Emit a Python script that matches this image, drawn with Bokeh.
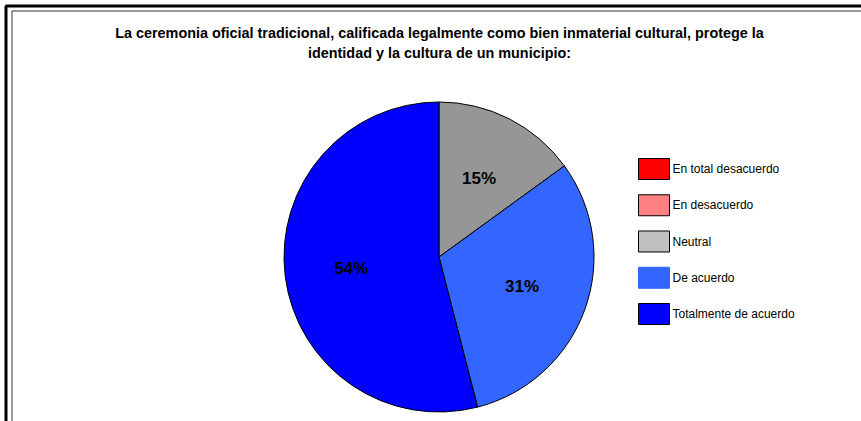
import math
from bokeh.plotting import figure
from bokeh.models import Range1d, ColumnDataSource
from bokeh.core.properties import value
from bokeh.embed import file_html
from bokeh.resources import INLINE

# ---- data ----
title_lines = [
    "La ceremonia oficial tradicional, calificada legalmente como bien inmaterial cultural, protege la",
    "identidad y la cultura de un municipio:",
]
categories = ["En total desacuerdo", "En desacuerdo", "Neutral", "De acuerdo", "Totalmente de acuerdo"]
percentages = [0, 0, 15, 31, 54]
slice_colors = ["#FF0000", "#FF8080", "#969696", "#3366FF", "#0000FF"]
legend_colors = ["#FF0000", "#FF8080", "#C0C0C0", "#3366FF", "#0000FF"]
legend_outline = ["#000000", "#000000", "#000000", "#3366FF", "#000000"]

W, H = 861, 421
def Y(py):
    return H - py

p = figure(width=W, height=H, output_backend="svg", toolbar_location=None,
           x_range=Range1d(0, W), y_range=Range1d(0, H),
           x_axis_type=None, y_axis_type=None, min_border=0,
           outline_line_color=None, background_fill_color="white",
           border_fill_color="white")
p.xgrid.visible = False
p.ygrid.visible = False

# frame borders (top and left visible)
p.line([5.5, 5.5, W], [0, Y(5.5), Y(5.5)], line_color="black", line_width=3)
p.line([11.5, 11.5, W], [0, Y(10.5), Y(10.5)], line_color="#333333", line_width=1)

# title
p.text(x=[439, 439], y=[Y(32), Y(52)], text=title_lines,
       text_font=value("Liberation Sans"), text_font_style="bold",
       text_font_size="14.4px", text_align="center", text_baseline="middle",
       text_color="black")

# pie
cx, cy, R = 438.5, Y(256.5), 155
total = sum(percentages)
starts, ends, cols, labs, lx, ly = [], [], [], [], [], []
cum = 0.0
lr = 0.57 * R
for cat, v, c in zip(categories, percentages, slice_colors):
    if v > 0:
        a0 = math.pi / 2 - 2 * math.pi * cum / total
        a1 = math.pi / 2 - 2 * math.pi * (cum + v) / total
        starts.append(a0)
        ends.append(a1)
        cols.append(c)
        mid = (a0 + a1) / 2
        lx.append(cx + lr * math.cos(mid))
        ly.append(cy + lr * math.sin(mid))
        labs.append(f"{v}%")
    cum += v

src = ColumnDataSource(dict(start=starts, end=ends, color=cols))
p.wedge(x=cx, y=cy, radius=R, start_angle="start", end_angle="end",
        direction="clock", fill_color="color", line_color="black",
        line_width=1, source=src)

p.text(x=lx, y=ly, text=labs, text_font=value("Liberation Sans"),
       text_font_style="bold", text_font_size="17px", text_align="center",
       text_baseline="middle", text_color="black")

# legend
row0, step = 168.5, 36.25
ry = [Y(row0 + i * step) for i in range(len(categories))]
p.rect(x=[653.5] * len(categories), y=ry, width=31, height=21,
       fill_color=legend_colors, line_color=legend_outline, line_width=1)
p.text(x=[672] * len(categories), y=ry, text=categories,
       text_font=value("Liberation Sans"), text_font_size="12px",
       text_align="left", text_baseline="middle", text_color="black")

open("out.html", "w").write(file_html(p, INLINE))
